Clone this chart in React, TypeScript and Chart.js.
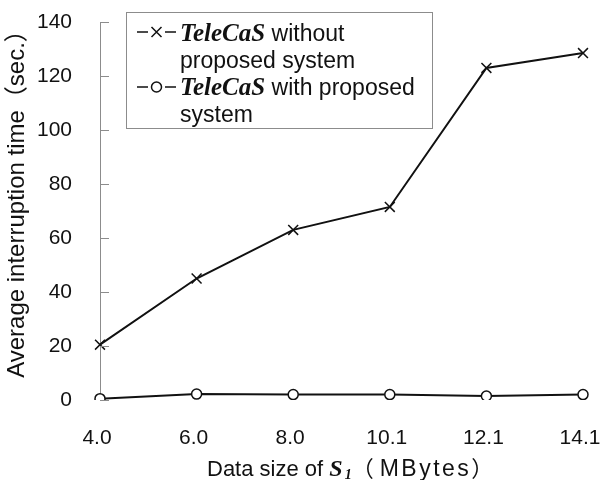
import React, { useEffect, useRef } from "react";
import { Chart, registerables } from "chart.js";

Chart.register(...registerables);

const categories = ["4.0", "6.0", "8.0", "10.1", "12.1", "14.1"];
const withoutProposed = [20.5, 45, 63, 71.5, 123, 128.5];
const withProposed = [0.5, 2.2, 2, 2, 1.5, 2];
const yTickValues = [0, 20, 40, 60, 80, 100, 120, 140];

const legendNameItalic = "TeleCaS";
const legendWithout = [" without", "proposed system"];
const legendWith = [" with proposed", "system"];
const yTitle = "Average interruption time（sec.）";
const xTitleParts = ["Data size of ", "S", "1", "（", "MBytes", "）"];

const SANS = "'Liberation Sans', Arial, 'Noto Sans CJK JP', sans-serif";
const CJK = "'Noto Sans CJK JP', sans-serif";
const SERIF = "'Liberation Serif', 'Times New Roman', serif";

function drawMarker(ctx: CanvasRenderingContext2D, kind: string, x: number, y: number) {
  ctx.save();
  ctx.strokeStyle = "#111";
  ctx.lineWidth = 1.5;
  if (kind === "cross") {
    const d = 5;
    ctx.beginPath();
    ctx.moveTo(x - d, y - d);
    ctx.lineTo(x + d, y + d);
    ctx.moveTo(x + d, y - d);
    ctx.lineTo(x - d, y + d);
    ctx.stroke();
  } else {
    ctx.fillStyle = "#fff";
    ctx.beginPath();
    ctx.arc(x, y, 5, 0, Math.PI * 2);
    ctx.fill();
    ctx.stroke();
  }
  ctx.restore();
}

const decorations = {
  id: "decorations",
  afterDraw(chart: any) {
    const ctx: CanvasRenderingContext2D = chart.ctx;
    const { left } = chart.chartArea;
    const yScale = chart.scales.y;
    ctx.save();
    // inward tick marks
    ctx.strokeStyle = "#8c8c8c";
    ctx.lineWidth = 1;
    for (const v of yTickValues) {
      const py = Math.round(yScale.getPixelForValue(v)) + 0.5;
      ctx.beginPath();
      ctx.moveTo(left, py);
      ctx.lineTo(left + 9, py);
      ctx.stroke();
    }

    // y axis title
    ctx.save();
    ctx.fillStyle = "#111";
    ctx.translate(17, 198);
    ctx.rotate(-Math.PI / 2);
    ctx.font = `24px ${SANS}`;
    ctx.textAlign = "center";
    ctx.textBaseline = "middle";
    ctx.fillText(yTitle, 0, 0);
    ctx.restore();

    // legend box
    ctx.fillStyle = "#fff";
    ctx.fillRect(126.5, 12.5, 306, 116);
    ctx.strokeStyle = "#8c8c8c";
    ctx.strokeRect(126.5, 12.5, 306, 116);

    const drawLegendSample = (kind: string, y: number) => {
      ctx.save();
      ctx.strokeStyle = "#111";
      ctx.lineWidth = 1.5;
      ctx.beginPath();
      ctx.moveTo(137, y);
      ctx.lineTo(148, y);
      ctx.moveTo(165, y);
      ctx.lineTo(176, y);
      ctx.stroke();
      ctx.restore();
      drawMarker(ctx, kind, 156.5, y);
    };

    const textX = 180;
    ctx.fillStyle = "#111";
    ctx.textBaseline = "alphabetic";
    ctx.textAlign = "left";

    const drawLegendEntry = (kind: string, lines: string[], base: number, markerY: number) => {
      drawLegendSample(kind, markerY);
      ctx.font = `bold italic 25px ${SERIF}`;
      ctx.fillText(legendNameItalic, textX, base);
      const w = ctx.measureText(legendNameItalic).width;
      ctx.font = `23px ${SANS}`;
      ctx.fillText(lines[0], textX + w, base);
      ctx.fillText(lines[1], textX, base + 27);
    };
    drawLegendEntry("cross", legendWithout, 41, 32);
    drawLegendEntry("circle", legendWith, 95, 87);

    // x axis title
    let x = 207;
    const base = 476;
    ctx.font = `22px ${SANS}`;
    ctx.fillText(xTitleParts[0], x, base);
    x += ctx.measureText(xTitleParts[0]).width;
    ctx.font = `bold italic 24px ${SERIF}`;
    ctx.fillText(xTitleParts[1], x, base);
    x += ctx.measureText(xTitleParts[1]).width + 2;
    ctx.font = `bold italic 14px ${SERIF}`;
    ctx.fillText(xTitleParts[2], x, base + 3);
    x += ctx.measureText(xTitleParts[2]).width;
    ctx.font = `22px ${CJK}`;
    ctx.fillText(xTitleParts[3], x, base);
    x += ctx.measureText(xTitleParts[3]).width;
    ctx.font = `23px ${SANS}`;
    (ctx as any).letterSpacing = "2.5px";
    ctx.fillText(xTitleParts[4], x + 6, base);
    x += ctx.measureText(xTitleParts[4]).width + 6;
    (ctx as any).letterSpacing = "0px";
    ctx.font = `22px ${CJK}`;
    ctx.fillText(xTitleParts[5], x, base);
    ctx.restore();
  },
};

export default function App() {
  const canvasRef = useRef<HTMLCanvasElement | null>(null);

  useEffect(() => {
    if (!canvasRef.current) return;
    const chart = new Chart(canvasRef.current, {
      type: "line",
      data: {
        labels: categories,
        datasets: [
          {
            label: "TeleCaS without proposed system",
            data: withoutProposed,
            borderColor: "#111",
            borderWidth: 2,
            pointStyle: "crossRot",
            pointRadius: 7,
            pointBorderWidth: 1.5,
            pointBorderColor: "#111",
            pointBackgroundColor: "#fff",
            tension: 0,
          },
          {
            label: "TeleCaS with proposed system",
            data: withProposed,
            borderColor: "#111",
            borderWidth: 2,
            pointStyle: "circle",
            pointRadius: 5,
            pointBorderWidth: 1.5,
            pointBorderColor: "#111",
            pointBackgroundColor: "#fff",
            tension: 0,
          },
        ],
      },
      options: {
        animation: false,
        responsive: true,
        maintainAspectRatio: false,
        layout: { padding: { top: 22, right: 17, left: 0, bottom: 0 } },
        plugins: {
          legend: { display: false },
          tooltip: { enabled: false },
        },
        scales: {
          x: {
            type: "category",
            offset: false,
            grid: { display: false, drawTicks: false },
            border: { display: false },
            ticks: {
              color: "#111",
              font: { family: SANS, size: 21 },
              padding: 26,
              maxRotation: 0,
              autoSkip: false,
              labelOffset: -3,
            },
            afterFit: (scale: any) => {
              scale.height = 80;
              scale.paddingLeft = 0;
              scale.paddingRight = 0;
            },
          },
          y: {
            min: 0,
            max: 140,
            grid: { display: false, drawTicks: false },
            border: { display: true, color: "#8c8c8c", width: 1 },
            ticks: {
              stepSize: 20,
              color: "#111",
              font: { family: SANS, size: 21 },
              padding: 28,
            },
            afterFit: (scale: any) => {
              scale.width = 100;
              scale.paddingTop = 0;
              scale.paddingBottom = 0;
            },
          },
        },
      },
      plugins: [decorations],
    });
    return () => chart.destroy();
  }, []);

  return (
    <div style={{ position: "fixed", left: 0, top: 0, width: 600, height: 480, background: "#fff" }}>
      <canvas ref={canvasRef} />
    </div>
  );
}
